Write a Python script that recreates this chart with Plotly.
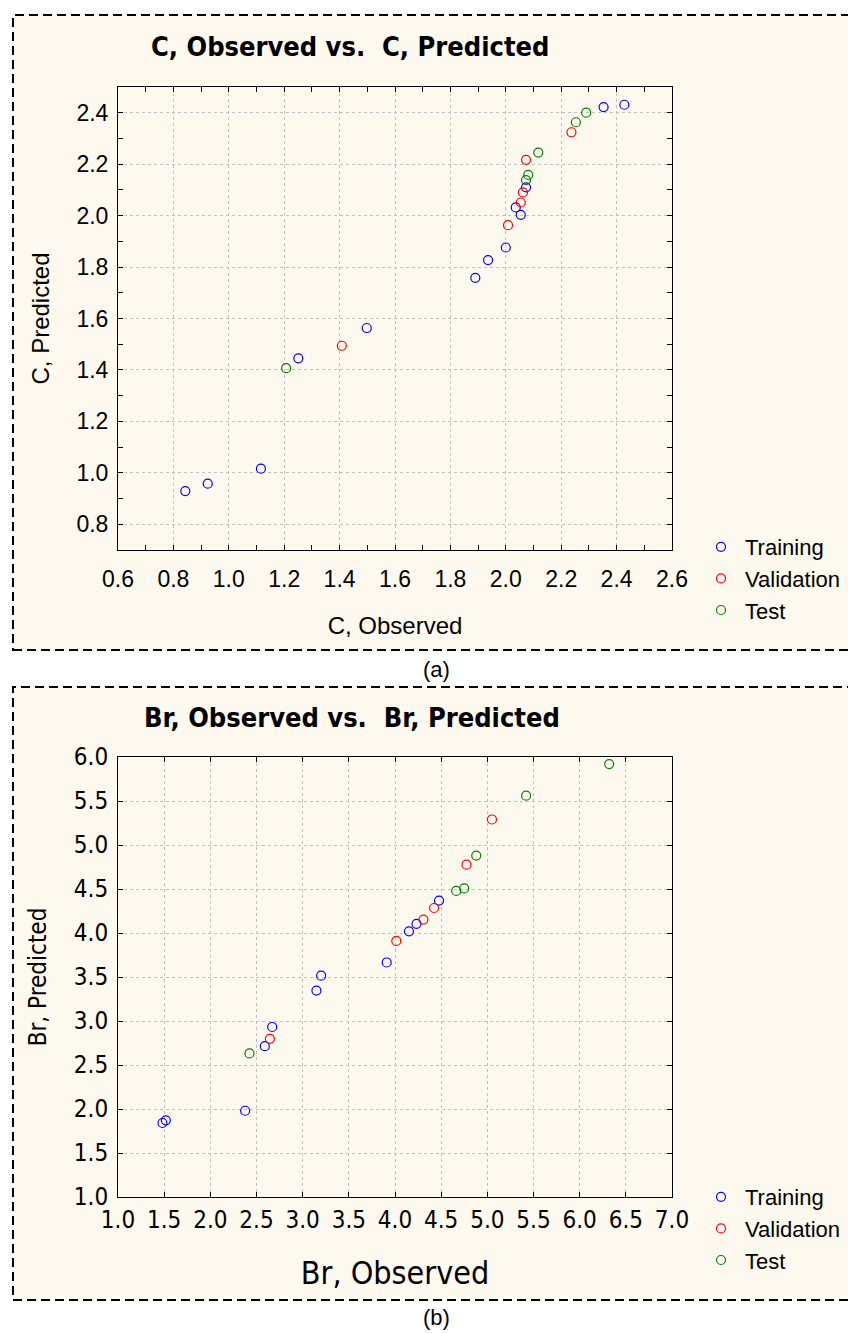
import plotly.graph_objects as go

# ---------------- data ----------------
series_names = ["Training", "Validation", "Test"]

# Panel (a): C
c_train_obs = [0.843, 0.924, 1.116, 1.251, 1.498, 1.890, 1.936, 2.000, 2.054, 2.036, 2.073, 2.353, 2.428]
c_train_pred = [0.929, 0.958, 1.016, 1.445, 1.563, 1.758, 1.827, 1.876, 2.003, 2.032, 2.110, 2.422, 2.431]
c_val_obs = [1.408, 2.008, 2.054, 2.062, 2.073, 2.237]
c_val_pred = [1.494, 1.963, 2.051, 2.090, 2.217, 2.324]
c_test_obs = [1.207, 2.073, 2.081, 2.117, 2.253, 2.290]
c_test_pred = [1.407, 2.138, 2.158, 2.245, 2.363, 2.400]

# Panel (b): Br
br_train_obs = [1.482, 1.518, 2.377, 2.590, 2.670, 3.149, 3.200, 3.910, 4.151, 4.233, 4.477]
br_train_pred = [1.841, 1.871, 1.980, 2.714, 2.932, 3.346, 3.515, 3.665, 4.019, 4.104, 4.369]
br_val_obs = [2.645, 4.014, 4.308, 4.423, 4.774, 5.050]
br_val_pred = [2.797, 3.910, 4.153, 4.284, 4.776, 5.290]
br_test_obs = [2.424, 4.663, 4.749, 4.880, 5.420, 6.320]
br_test_pred = [2.632, 4.478, 4.507, 4.880, 5.560, 5.920]

# ---------------- styling ----------------
W, H = 848, 1333
colors = ["#0000FF", "#FF0000", "#008000"]
ARIAL = "Liberation Sans, Arial, sans-serif"
NARROW = "Liberation Sans Narrow, Arial Narrow, DejaVu Sans Condensed, sans-serif"
CREAM = "#FEF9EE"
GRID = "#C0C0C0"


def px_x(v):
    return v / W


def px_y(v):
    return 1 - v / H


fig = go.Figure()

panel_a = [(c_train_obs, c_train_pred), (c_val_obs, c_val_pred), (c_test_obs, c_test_pred)]
panel_b = [(br_train_obs, br_train_pred), (br_val_obs, br_val_pred), (br_test_obs, br_test_pred)]

for (xs, ys), name, col in zip(panel_a, series_names, colors):
    fig.add_trace(go.Scatter(
        x=xs, y=ys, mode="markers", name=name, xaxis="x", yaxis="y", legend="legend",
        marker=dict(symbol="circle-open", size=9, color=col, line=dict(width=1.2, color=col)),
    ))
for (xs, ys), name, col in zip(panel_b, series_names, colors):
    fig.add_trace(go.Scatter(
        x=xs, y=ys, mode="markers", name=name, xaxis="x2", yaxis="y2", legend="legend2",
        marker=dict(symbol="circle-open", size=9, color=col, line=dict(width=1.2, color=col)),
    ))

xdom = [px_x(118), px_x(672)]


def axis(rng, dtick, minor_dtick, domain, anchor, font, title, title_font, standoff, tickstandoff):
    d = dict(
        range=rng, dtick=dtick, tick0=0, domain=domain, anchor=anchor,
        showgrid=True, gridcolor=GRID, griddash="dot", gridwidth=1,
        zeroline=False, showline=True, linecolor="black", linewidth=1, mirror="ticks",
        ticks="inside", ticklen=5, tickcolor="black", tickwidth=1,
        tickfont=font, tickformat=".1f", automargin=False,
        ticklabelstandoff=tickstandoff,
        title=dict(text=title, font=title_font, standoff=standoff),
    )
    if minor_dtick:
        d["minor"] = dict(dtick=minor_dtick, tick0=0, ticks="inside", ticklen=5,
                          tickcolor="black", showgrid=False)
    return d


fig.update_layout(
    width=W, height=H, autosize=False,
    margin=dict(l=0, r=0, t=0, b=0),
    paper_bgcolor="white", plot_bgcolor="white",
    font=dict(family=ARIAL, color="black"),
    showlegend=True,
    xaxis=axis([0.6, 2.6], 0.2, 0.1, xdom, "y",
               dict(family=ARIAL, size=23, color="black"), "C, Observed",
               dict(family=ARIAL, size=24, color="black"), 26, 8),
    yaxis=axis([0.7, 2.5], 0.2, 0.1, [px_y(550), px_y(87)], "x",
               dict(family=ARIAL, size=23, color="black"), "C, Predicted",
               dict(family=ARIAL, size=24, color="black"), 20, 4),
    xaxis2=axis([1.0, 7.0], 0.5, None, xdom, "y2",
                dict(family=NARROW, size=24, color="black"), "Br, Observed",
                dict(family=NARROW, size=32, color="black"), 28, 1),
    yaxis2=axis([1.0, 6.0], 0.5, None, [px_y(1197), px_y(757)], "x2",
                dict(family=NARROW, size=24, color="black"), "Br, Predicted",
                dict(family=NARROW, size=24, color="black"), 20, 4),
    legend=dict(x=px_x(697), y=px_y(526), xanchor="left", yanchor="top",
                bgcolor="rgba(0,0,0,0)", font=dict(family=ARIAL, size=22, color="black"),
                itemwidth=38, tracegroupgap=0),
    legend2=dict(x=px_x(697), y=px_y(1176), xanchor="left", yanchor="top",
                 bgcolor="rgba(0,0,0,0)", font=dict(family=ARIAL, size=22, color="black"),
                 itemwidth=38, tracegroupgap=0),
)

# Panel backgrounds and dashed frames
for top, bottom in [(15, 650), (687, 1300)]:
    fig.add_shape(type="rect", xref="paper", yref="paper",
                  x0=px_x(13), x1=px_x(870), y0=px_y(bottom), y1=px_y(top),
                  fillcolor=CREAM, line=dict(color="black", width=2, dash="9px,5px"),
                  layer="below")

# Panel titles and captions
fig.add_annotation(text="<b>C, Observed vs.  C, Predicted</b>", xref="paper", yref="paper",
                   x=px_x(350), y=px_y(47), xanchor="center", yanchor="middle", showarrow=False,
                   font=dict(family=NARROW, size=27, color="black"))
fig.add_annotation(text="<b>Br, Observed vs.  Br, Predicted</b>", xref="paper", yref="paper",
                   x=px_x(352), y=px_y(717), xanchor="center", yanchor="middle", showarrow=False,
                   font=dict(family=NARROW, size=27, color="black"))
fig.add_annotation(text="(a)", xref="paper", yref="paper",
                   x=px_x(436), y=px_y(669), xanchor="center", yanchor="middle", showarrow=False,
                   font=dict(family=ARIAL, size=22, color="black"))
fig.add_annotation(text="(b)", xref="paper", yref="paper",
                   x=px_x(436), y=px_y(1317), xanchor="center", yanchor="middle", showarrow=False,
                   font=dict(family=ARIAL, size=22, color="black"))

fig.write_html(
    "out.html",
    config={"displayModeBar": False},
    post_script="document.body.style.margin='0px';document.body.style.overflow='hidden';",
)
